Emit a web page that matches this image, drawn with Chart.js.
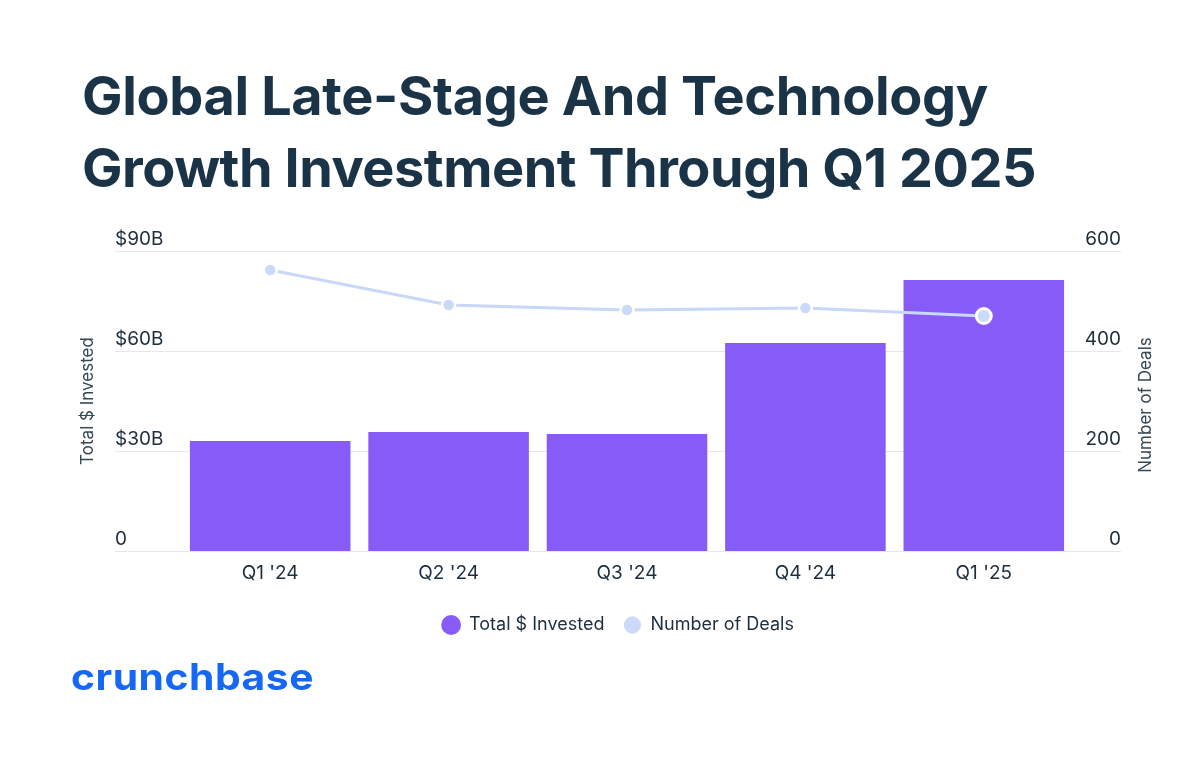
<!DOCTYPE html>
<html>
<head>
<meta charset="utf-8">
<script src="https://cdn.jsdelivr.net/npm/chart.js@4.4.1/dist/chart.umd.min.js"></script>
<style>
  html,body{margin:0;padding:0;background:#ffffff;}
  body{width:1200px;height:762px;position:relative;overflow:hidden;}
  .title{position:absolute;left:82px;margin:0;white-space:nowrap;font-family:Inter,"DejaVu Sans",sans-serif;font-weight:700;font-size:54px;line-height:60px;color:#1b3346;}
  #logo{position:absolute;left:71px;white-space:nowrap;font-family:Inter,"DejaVu Sans",sans-serif;font-weight:700;font-size:37px;line-height:40px;color:#1567f5;transform-origin:0 50%;letter-spacing:0.5px;}
  #wrap{position:absolute;left:0;top:220px;width:1200px;height:440px;}
</style>
</head>
<body>
<div class="title" id="t1">Global Late-Stage And Technology</div>
<div class="title" id="t2">Growth Investment Through Q1 2025</div>
<div id="wrap"><canvas id="c" width="1200" height="440"></canvas></div>
<div id="logo">crunchbase</div>
<script>
// ---- data ----
const categories = ["Q1 '24", "Q2 '24", "Q3 '24", "Q4 '24", "Q1 '25"];
const totalInvestedB = [33.0, 35.7, 35.1, 62.4, 81.3];
const numberOfDeals = [562, 492, 482, 486, 470];
const leftTickLabels = ["0", "$30B", "$60B", "$90B"];
const rightTickLabels = ["0", "200", "400", "600"];
const seriesNames = ["Total $ Invested", "Number of Deals"];

// ---- text placement helpers ----
function baselineOffset(el){
  const probe = document.createElement('span');
  probe.style.cssText = 'display:inline-block;width:0;height:0;vertical-align:baseline';
  el.appendChild(probe);
  const off = probe.getBoundingClientRect().top - el.getBoundingClientRect().top;
  probe.remove();
  return off;
}
function fitWidth(el, target){
  el.style.letterSpacing = '0px';
  const w = el.getBoundingClientRect().width;
  const n = el.textContent.length;
  el.style.letterSpacing = ((target - w) / n) + 'px';
}
function fitScale(el, target){
  const w = el.getBoundingClientRect().width;
  el.style.transform = 'scaleX(' + (target / w) + ')';
}
const t1 = document.getElementById('t1'), t2 = document.getElementById('t2'), logo = document.getElementById('logo');
t1.style.top = '0px'; t2.style.top = '0px'; logo.style.top = '0px';
fitWidth(t1, 906); fitWidth(t2, 954); fitScale(logo, 243);
t1.style.top = (115 - baselineOffset(t1)) + 'px';
t2.style.top = (187 - baselineOffset(t2)) + 'px';
logo.style.top = (690 - baselineOffset(logo)) + 'px';

// ---- chart ----
const FONT = 'Inter, "DejaVu Sans", sans-serif';
const TEXT = '#1e2e3c';
const GRID = '#e7e8ec';
const CA = {top: 31, bottom: 331, left: 181, right: 1073};
const GRID_LEFT = 115, GRID_RIGHT = 1121;
let xAxisHeight = 50;

const customAxes = {
  id: 'customAxes',
  beforeDatasetsDraw(chart){
    const ctx = chart.ctx, y = chart.scales.y, y1 = chart.scales.y1;
    ctx.save();
    ctx.strokeStyle = GRID; ctx.lineWidth = 1;
    y.ticks.forEach((t) => {
      const py = Math.round(y.getPixelForValue(t.value)) + 0.5;
      ctx.beginPath(); ctx.moveTo(GRID_LEFT, py); ctx.lineTo(GRID_RIGHT, py); ctx.stroke();
    });
    ctx.fillStyle = TEXT;
    ctx.font = '19px ' + FONT;
    ctx.textBaseline = 'alphabetic';
    y.ticks.forEach((t) => {
      const py = y.getPixelForValue(t.value);
      ctx.textAlign = 'left';
      ctx.fillText(t.label, GRID_LEFT, py - 6);
    });
    y1.ticks.forEach((t) => {
      const py = y1.getPixelForValue(t.value);
      ctx.textAlign = 'right';
      ctx.fillText(t.label, GRID_RIGHT, py - 6);
    });
    // right axis title, reading bottom-to-top
    ctx.save();
    ctx.translate(1146, (chart.chartArea.top + chart.chartArea.bottom) / 2 + 4);
    ctx.rotate(-Math.PI / 2);
    ctx.textAlign = 'center'; ctx.textBaseline = 'middle';
    ctx.fillStyle = '#364855';
    ctx.font = '17px ' + FONT;
    ctx.fillText(y1.options.title.text, 0, 0);
    ctx.restore();
    ctx.restore();
  }
};

const chart = new Chart(document.getElementById('c'), {
  data: {
    labels: categories,
    datasets: [
      {
        type: 'bar', label: seriesNames[0], data: totalInvestedB, yAxisID: 'y', order: 1,
        backgroundColor: '#875bf7', borderWidth: 0,
        barPercentage: 0.9, categoryPercentage: 1.0
      },
      {
        type: 'line', label: seriesNames[1], data: numberOfDeals, yAxisID: 'y1', order: 0,
        borderColor: '#c9d8f8', backgroundColor: '#cbdaf9', borderWidth: 3,
        pointBackgroundColor: '#cbdaf9', pointBorderColor: '#ffffff',
        pointRadius: [6.5, 6.5, 6.5, 6.5, 7.5], pointBorderWidth: [2.5, 2.5, 2.5, 2.5, 3],
        pointHoverRadius: 7, tension: 0
      }
    ]
  },
  options: {
    responsive: false, animation: false,
    layout: {padding: {top: CA.top, left: 36, right: 0, bottom: 10}},
    plugins: {
      tooltip: {enabled: false},
      legend: {
        position: 'bottom',
        labels: {
          usePointStyle: true, pointStyle: 'circle', boxWidth: 20, boxHeight: 14,
          padding: 19, color: TEXT, font: {family: FONT, size: 18},
          sort: (a, b) => a.datasetIndex - b.datasetIndex
        }
      }
    },
    scales: {
      x: {
        offset: true,
        grid: {display: false}, border: {display: false},
        ticks: {color: TEXT, font: {family: FONT, size: 19}, padding: 3, maxRotation: 0},
        afterFit: (s) => { s.height = xAxisHeight; }
      },
      y: {
        position: 'left', min: 0, max: 90,
        ticks: {stepSize: 30, display: false, callback: (v, i) => leftTickLabels[i]},
        grid: {display: false}, border: {display: false},
        title: {display: true, text: 'Total $ Invested', color: '#364855', font: {family: FONT, size: 17}, padding: {top: 42, bottom: 0}},
        afterFit: (s) => { s.width = CA.left - 36; }
      },
      y1: {
        position: 'right', min: 0, max: 600,
        ticks: {stepSize: 200, display: false, callback: (v, i) => rightTickLabels[i]},
        grid: {display: false}, border: {display: false},
        title: {display: false, text: 'Number of Deals'},
        afterFit: (s) => { s.width = 1200 - CA.right; }
      }
    }
  },
  plugins: [customAxes]
});

// settle vertical layout so the plot area and legend sit where they should
for (let k = 0; k < 2; k++) {
  const lg = chart.legend;
  const hb = lg.legendHitBoxes[0];
  const d = (hb.top + hb.height / 2) - lg.top;
  const legendTop = 405 - d;
  const H = chart.height;
  chart.options.layout.padding.bottom = H - lg.height - legendTop;
  xAxisHeight = legendTop - CA.bottom;
  chart.update('none');
}
</script>
</body>
</html>
